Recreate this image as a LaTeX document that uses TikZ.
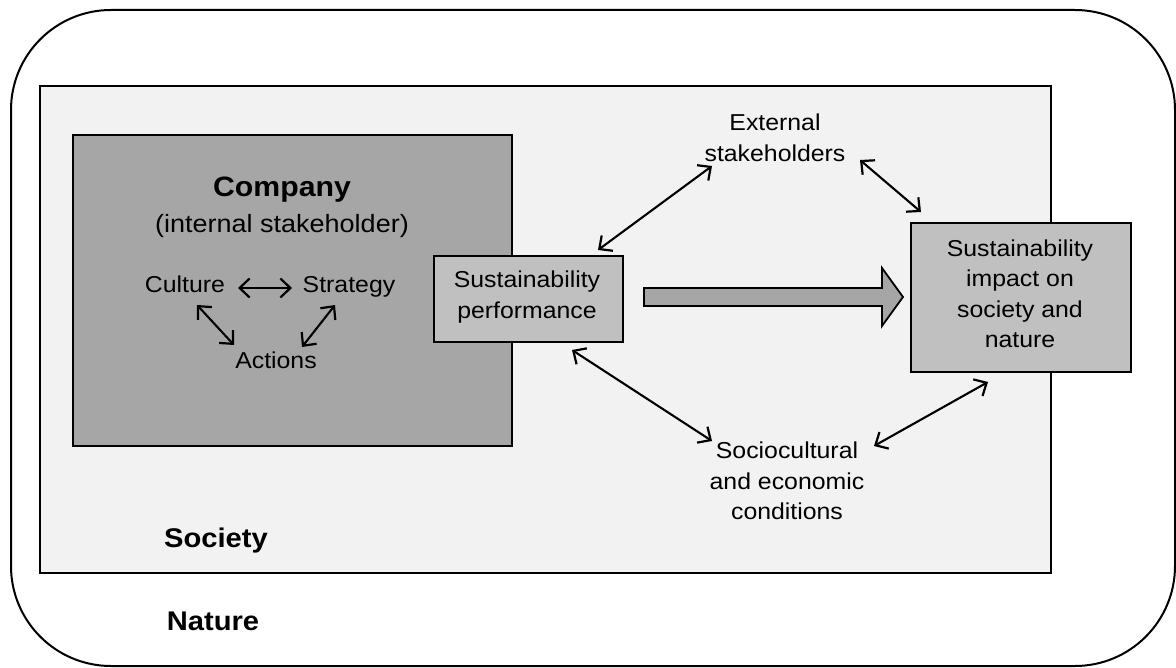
\documentclass[tikz,border=0pt]{standalone}
\usepackage{fontspec}
\setmainfont{Liberation Sans}[FakeStretch=1.08]
\usetikzlibrary{arrows.meta}
\definecolor{socfill}{HTML}{F2F2F2}
\definecolor{compfill}{HTML}{A6A6A6}
\definecolor{boxfill}{HTML}{C0C0C0}
\begin{document}
\begin{tikzpicture}[x=1pt,y=-1pt,
  txt/.style={font=\fontsize{23}{30.5}\selectfont, align=center, inner sep=0pt},
  boxed/.style={draw=black, line width=1.8pt, fill=boxfill},
  dbl/.style={{Straight Barb[length=10pt,width=19pt,line width=2.2pt]}-{Straight Barb[length=10pt,width=19pt,line width=2.2pt]}, line width=2.1pt},
  bigtitle/.style={font=\fontsize{27}{31}\selectfont\bfseries, inner sep=0pt, anchor=base}
]
\useasboundingbox (0,0) rectangle (1176,668);
% Nature
\draw[line width=2pt, rounded corners=100pt] (11,10) rectangle (1175,666);
% Society
\draw[line width=1.8pt, fill=socfill] (40,86) rectangle (1051,573);
% Company
\draw[line width=1.8pt, fill=compfill] (73,135) rectangle (512,446);
% Sustainability performance
\node[boxed, minimum width=189pt, minimum height=86pt, anchor=north west, inner sep=0pt] (sp) at (433,255) {};
\node[txt] (sptxt) at (527,297) {Sustainability\\performance};
% Impact box
\node[boxed, minimum width=220pt, minimum height=149pt, anchor=north west, inner sep=0pt] (imp) at (910,222) {};
\node[txt] (imptxt) at (1020,294) {Sustainability\\impact on\\society and\\nature};
% Big arrow
\draw[line width=1.8pt, fill=compfill, line join=miter]
  (644,288) -- (882,288) -- (882,268) -- (903,297) -- (882,326) -- (882,306) -- (644,306) -- cycle;
% Company texts
\node[font=\fontsize{28}{31}\selectfont\bfseries, inner sep=0pt, anchor=base] (comp) at (282,197) {Company};
\node[font=\fontsize{25}{31}\selectfont, inner sep=0pt, anchor=base] (int) at (282,233) {(internal stakeholder)};
\node[txt, anchor=base] (cult) at (185,293) {Culture};
\node[txt, anchor=base] (strat) at (349,293) {Strategy};
\node[txt, anchor=base] (act) at (276,369) {Actions};
% External / socio
\node[txt] (ext) at (775,138) {External\\stakeholders};
\node[txt] (soc) at (787,481) {Sociocultural\\and economic\\conditions};
% Society / Nature labels
\node[bigtitle] (society) at (216,547) {Society};
\node[bigtitle] (nature) at (213,630) {Nature};
% connector coordinates
\coordinate (c1) at (238,288); \coordinate (s1) at (292,288);
\coordinate (c2) at (197,305); \coordinate (a1) at (234,345);
\coordinate (s2) at (335,305); \coordinate (a2) at (302,347);
\coordinate (spe) at (598,250); \coordinate (exs) at (712,166);
\coordinate (exi) at (860,160); \coordinate (ime) at (921,212);
\coordinate (sps) at (572,350); \coordinate (sos) at (712,441);
\coordinate (soi) at (874,446); \coordinate (ims) at (988,382);
\draw[dbl] (c1) -- (s1);
\draw[dbl] (c2) -- (a1);
\draw[dbl] (s2) -- (a2);
\draw[dbl] (spe) -- (exs);
\draw[dbl] (exi) -- (ime);
\draw[dbl] (sps) -- (sos);
\draw[dbl] (soi) -- (ims);
\end{tikzpicture}
\end{document}
